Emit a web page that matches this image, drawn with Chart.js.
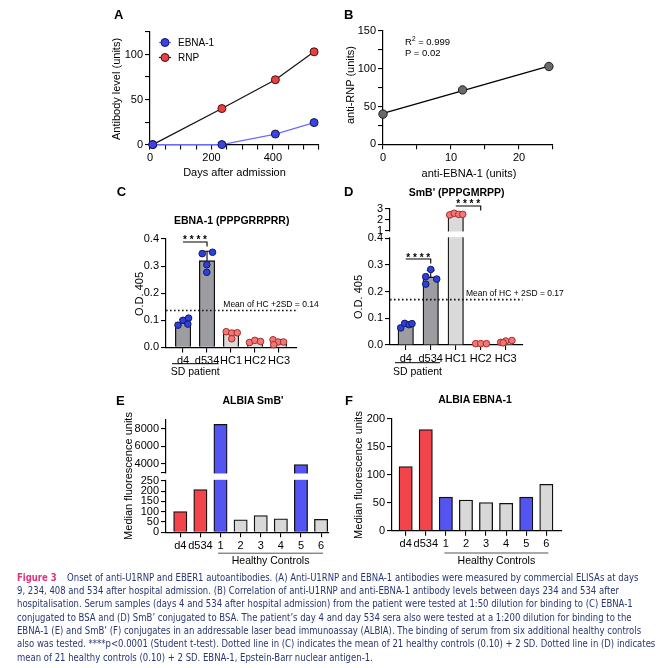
<!DOCTYPE html>
<html>
<head>
<meta charset="utf-8">
<script src="https://cdn.jsdelivr.net/npm/chart.js"></script>
<style>
  html, body { margin: 0; padding: 0; background: #fff; }
  body { width: 666px; height: 668px; position: relative; overflow: hidden; font-family: 'Liberation Sans', Arial, sans-serif; color: #000; }
  canvas { position: absolute; }
  .t { position: absolute; white-space: nowrap; line-height: 1; }
  .cap { position: absolute; left: 16.7px; white-space: nowrap; line-height: 1; font-size: 10px; color: #263672;
         font-family: 'Liberation Sans Narrow', 'DejaVu Sans Condensed', 'Liberation Sans', sans-serif; transform-origin: 0 50%; }
  .cap b { color: #e3337b; margin-right: 11px; }
</style>
</head>
<body>
<canvas id="cA"></canvas>
<canvas id="cB"></canvas>
<canvas id="cC"></canvas>
<canvas id="cD"></canvas>
<canvas id="cE"></canvas>
<canvas id="cF"></canvas>
<script>
// A / B : ELISA units over time
const days = [9, 234, 408, 534];
const rnpUnits = [0, 40, 72, 103];
const ebnaUnits = [0, 0, 11.7, 24.4];
const fitEbna = [0, 24.4];
const fitRnp = [41, 103.5];

// C : EBNA-1 peptide OD
const odGroups = ['d4', 'd534', 'HC1', 'HC2', 'HC3'];
const ebnaOd = [0.092, 0.32, 0.05, 0.022, 0.02];
const ebnaOdSd = [0.012, 0.035, 0.012, 0.004, 0.008];
const ebnaOdDots = [
  [0.082, 0.1, 0.108, 0.086],
  [0.346, 0.351, 0.305, 0.277],
  [0.058, 0.053, 0.054, 0.032],
  [0.018, 0.026, 0.022],
  [0.028, 0.02, 0.02, 0.01]
];
const ebnaOdJitter = [
  [-0.21, 0, 0.23, 0.2],
  [-0.2, 0.23, -0.01, -0.01],
  [-0.2, 0.03, 0.26, 0.03],
  [-0.23, -0.01, 0.23],
  [-0.25, -0.04, 0.19, -0.22]
];
const ebnaCutoff = 0.136;

// D : SmB' peptide OD
const smbOd = [0.075, 0.255, 2.5, 0.005, 0.012];
const smbOdSd = [0.008, 0.025, 0.08, 0.002, 0.004];
const smbOdDots = [
  [0.064, 0.081, 0.076, 0.08],
  [0.283, 0.256, 0.247, 0.228],
  [2.45, 2.6, 2.5, 2.5],
  [0.005, 0.005, 0.005],
  [0.01, 0.015, 0.017, 0.008]
];
const smbOdJitter = [
  [-0.2, -0.04, 0.13, 0.25],
  [0, -0.2, 0.24, -0.2],
  [-0.24, -0.06, 0.12, 0.28],
  [-0.2, 0, 0.23],
  [-0.2, 0, 0.25, -0.1]
];
const smbCutoff = 0.17;
const smbOdTicks = [0, 0.1, 0.2, 0.3, 0.4, 1, 2, 3];

// E / F : ALBIA
const albiaGroups = ['d4', 'd534', '1', '2', '3', '4', '5', '6'];
const albiaSmb = [100, 207, 8500, 60, 81, 65, 3900, 63];
const albiaEbna = [115, 181, 60, 55, 50.5, 49, 60, 83];
const albiaSmbTicks = [0, 50, 100, 150, 200, 250, 3000, 4000, 6000, 8000];

Chart.defaults.font.family = "'Liberation Sans', Arial, sans-serif";
Chart.defaults.font.size = 11;
Chart.defaults.color = '#000';
Chart.defaults.animation = false;
Chart.defaults.events = [];
Chart.defaults.plugins.legend.display = false;
Chart.defaults.plugins.tooltip.enabled = false;

// y axis with a break: two linear pieces stacked
const brokenY = {};
class BrokenScale extends Chart.LinearScale {
  buildTicks() {
    return brokenY[this.chart.canvas.id].ticks.map(v => ({ value: v }));
  }
  getPixelForValue(v) {
    const [a, b] = brokenY[this.chart.canvas.id].segs;
    let f;
    if (v <= a.max) f = a.from + (v - a.min) / (a.max - a.min) * (a.to - a.from);
    else if (v < b.min) f = a.to + (v - a.max) / (b.min - a.max) * (b.from - a.to);
    else f = b.from + (v - b.min) / (b.max - b.min) * (b.to - b.from);
    return this.bottom - f * (this.bottom - this.top);
  }
}
BrokenScale.id = 'broken';
BrokenScale.defaults = {};
Chart.register(BrokenScale);

brokenY.cD = { segs: [{ min: 0, max: 0.4, from: 0, to: 0.785 }, { min: 1, max: 3, from: 0.842, to: 1 }], ticks: smbOdTicks };
brokenY.cE = { segs: [{ min: 0, max: 250, from: 0, to: 0.458 }, { min: 3000, max: 9000, from: 0.532, to: 1 }], ticks: albiaSmbTicks };

// extra drawing: legend, error bars, brackets, group lines, axis gap
const decor = {};
Chart.register({
  id: 'decor',
  afterDatasetDraw(chart, args) {
    const d = decor[chart.canvas.id];
    if (!d || args.meta.type !== 'bar') return;
    const ctx = chart.ctx, x = chart.scales.x, y = chart.scales.y, area = chart.chartArea;
    ctx.save();
    if (d.err) {
      ctx.strokeStyle = '#000';
      ctx.lineWidth = 1.1;
      d.err.mean.forEach((m, i) => {
        const px = x.getPixelForValue(i), y0 = y.getPixelForValue(m), y1 = y.getPixelForValue(m + d.err.sd[i]);
        ctx.beginPath();
        ctx.moveTo(px, y0); ctx.lineTo(px, y1);
        ctx.moveTo(px - 4, y1); ctx.lineTo(px + 4, y1);
        ctx.stroke();
      });
    }
    if (d.gap) {
      const segs = brokenY[chart.canvas.id].segs;
      const g0 = y.getPixelForValue(segs[1].min) + 1, g1 = y.getPixelForValue(segs[0].max) - 1;
      ctx.fillStyle = '#fff';
      ctx.fillRect(area.left - 1.5, g0, area.right - area.left + 3, g1 - g0);
    }
    ctx.restore();
  },
  afterDraw(chart) {
    const d = decor[chart.canvas.id];
    if (!d) return;
    const ctx = chart.ctx, x = chart.scales.x, y = chart.scales.y, area = chart.chartArea;
    ctx.save();
    if (d.legend) {
      chart.data.datasets.forEach((ds, i) => {
        const cx = area.left + d.legend.x, cy = area.top + d.legend.y + i * d.legend.dy;
        ctx.strokeStyle = ds.borderColor; ctx.lineWidth = ds.borderWidth;
        ctx.beginPath(); ctx.moveTo(cx - 6, cy); ctx.lineTo(cx + 6, cy); ctx.stroke();
        ctx.beginPath(); ctx.arc(cx, cy, ds.pointRadius, 0, Math.PI * 2);
        ctx.fillStyle = ds.pointBackgroundColor; ctx.fill();
        ctx.strokeStyle = ds.pointBorderColor; ctx.lineWidth = 1; ctx.stroke();
        ctx.fillStyle = '#000'; ctx.font = "10px 'Liberation Sans'";
        ctx.textAlign = 'left'; ctx.textBaseline = 'middle';
        ctx.fillText(ds.label, cx + 13, cy + 0.5);
      });
    }
    (d.brackets || []).forEach(b => {
      const x0 = x.getPixelForValue(b.from), x1 = x.getPixelForValue(b.to), yy = y.getPixelForValue(b.y);
      ctx.strokeStyle = '#000'; ctx.lineWidth = 1.1;
      ctx.beginPath(); ctx.moveTo(x0, yy); ctx.lineTo(x1, yy); ctx.lineTo(x1, yy + 4.5); ctx.stroke();
      ctx.fillStyle = '#000'; ctx.font = "bold 10px 'Liberation Sans'";
      ctx.textAlign = 'center'; ctx.textBaseline = 'alphabetic';
      ctx.fillText('* * * *', (x0 + x1) / 2, yy + 1.5);
    });
    (d.groups || []).forEach(g => {
      const x0 = x.getPixelForValue(g.from), x1 = x.getPixelForValue(g.to);
      ctx.strokeStyle = g.color; ctx.lineWidth = 1;
      ctx.beginPath(); ctx.moveTo(x0, area.bottom + g.lineDy); ctx.lineTo(x1, area.bottom + g.lineDy); ctx.stroke();
      ctx.fillStyle = '#000'; ctx.font = "10.5px 'Liberation Sans'";
      ctx.textAlign = 'center'; ctx.textBaseline = 'middle';
      ctx.fillText(g.label, (x0 + x1) / 2, area.bottom + g.textDy);
    });
    ctx.restore();
  }
});

function axis(type, min, max, size, ticks, extra) {
  return Object.assign({
    type: type, min: min, max: max, bounds: 'data', offset: false,
    grid: { drawOnChartArea: false, drawTicks: true, tickLength: 5, color: '#000', lineWidth: 1.1, offset: false },
    border: { color: '#000', width: 1.2 },
    ticks: Object.assign({ padding: 2, autoSkip: false, maxRotation: 0, minRotation: 0, color: '#000', font: { size: 11 } }, ticks),
    afterFit: function (s) { if (s.isHorizontal()) s.height = size; else s.width = size; }
  }, extra || {});
}

function catAxis(names, range) {
  return axis('linear', range[0], range[1], 20, { callback: (v, i) => names[i] }, {
    afterBuildTicks: s => { s.ticks = names.map((n, i) => ({ value: i })); }
  });
}

// put a canvas so that its plot area lands on the given page box
function place(id, area, yw, xh, config) {
  const pad = { left: 6, top: 26, right: 16, bottom: 34 };
  const cv = document.getElementById(id);
  const left = area.l - yw - pad.left, top = area.t - pad.top;
  const w = Math.ceil(area.r + pad.right - left), h = Math.ceil(area.b + xh + pad.bottom - top);
  cv.style.left = left + 'px'; cv.style.top = top + 'px';
  cv.width = w; cv.height = h;
  config.options.responsive = false;
  config.options.layout = { padding: { left: pad.left, top: pad.top, right: w - (area.r - left), bottom: h - (area.b + xh - top) } };
  return new Chart(cv, config);
}

const xy = (xs, ys) => xs.map((v, i) => ({ x: v, y: ys[i] }));

// A
decor.cA = { legend: { x: 15, y: 10.5, dy: 15 } };
place('cA', { l: 150, t: 31.7, r: 319, b: 144.3 }, 36, 20, {
  type: 'scatter',
  data: { datasets: [
    { label: 'EBNA-1', data: xy(days, ebnaUnits), showLine: true, clip: false, borderColor: '#6b6bff', borderWidth: 1.2,
      pointRadius: 4, pointBackgroundColor: '#3a43e6', pointBorderColor: '#151540', pointBorderWidth: 1 },
    { label: 'RNP', data: xy(days, rnpUnits), showLine: true, clip: false, borderColor: '#111', borderWidth: 1.2,
      pointRadius: 4, pointBackgroundColor: '#ee3f3f', pointBorderColor: '#401010', pointBorderWidth: 1 }
  ]},
  options: { scales: {
    x: axis('linear', 0, 550, 20, { stepSize: 50, callback: v => v % 200 === 0 ? v : '' }),
    y: axis('linear', 0, 125, 36, { stepSize: 25, callback: v => v % 50 === 0 ? v : '' })
  }}
});

// B
place('cB', { l: 383.3, t: 30.7, r: 553.3, b: 144 }, 36, 20, {
  type: 'scatter',
  data: { datasets: [
    { data: xy(ebnaUnits.slice(1), rnpUnits.slice(1)), clip: false, pointRadius: 4.2,
      pointBackgroundColor: '#6a6a6a', pointBorderColor: '#1a1a1a', pointBorderWidth: 1 },
    { data: xy(fitEbna, fitRnp), showLine: true, clip: false, pointRadius: 0, borderColor: '#000', borderWidth: 1.3 }
  ]},
  options: { scales: {
    x: axis('linear', 0, 25, 20, { stepSize: 5, callback: v => v % 10 === 0 ? v : '' }),
    y: axis('linear', 0, 150, 36, { stepSize: 25, callback: v => v % 50 === 0 ? v : '' })
  }}
});

function odChart(id, area, xr, yAxis, mean, dots, jitter, cutoff) {
  const pts = (a, b) => {
    const out = [];
    for (let i = a; i < b; i++) dots[i].forEach((v, k) => out.push({ x: i + jitter[i][k], y: v }));
    return out;
  };
  return place(id, area, 36, 20, {
    type: 'bar',
    data: { datasets: [
      { type: 'line', data: [{ x: xr[0], y: cutoff }, { x: xr[1], y: cutoff }], borderColor: '#111', borderWidth: 1.6,
        borderDash: [1.6, 2.4], pointRadius: 0, order: 0 },
      { type: 'scatter', data: pts(0, 2), clip: false, pointRadius: 3.3, pointBackgroundColor: '#2f3fdc',
        pointBorderColor: '#141a60', pointBorderWidth: 1, order: 1 },
      { type: 'scatter', data: pts(2, 5), clip: false, pointRadius: 3.3, pointBackgroundColor: '#f27878',
        pointBorderColor: '#a32c2c', pointBorderWidth: 1, order: 1 },
      { type: 'bar', data: mean.map((v, i) => ({ x: i, y: v })), barThickness: 15.5, borderWidth: 1.3, borderColor: '#111',
        backgroundColor: ['#9d9da1', '#9d9da1', '#dadada', '#dadada', '#dadada'], order: 2 }
    ]},
    options: { scales: { x: catAxis(odGroups, xr), y: yAxis } }
  });
}

// C
decor.cC = {
  err: { mean: ebnaOd, sd: ebnaOdSd },
  brackets: [{ from: 0, to: 1, y: 0.389 }],
  groups: [{ from: -0.46, to: 1.48, label: 'SD patient', lineDy: 16.3, textDy: 25, color: '#000' }]
};
odChart('cC', { l: 165.7, t: 239.3, r: 296.7, b: 347.7 }, [-0.71, 4.75],
  axis('linear', 0, 0.4, 36, { stepSize: 0.1, callback: v => v.toFixed(1) }),
  ebnaOd, ebnaOdDots, ebnaOdJitter, ebnaCutoff);

// D
decor.cD = {
  err: { mean: smbOd, sd: smbOdSd },
  brackets: [{ from: 0, to: 1, y: 0.322 }, { from: 2, to: 3, y: 3.28 }],
  groups: [{ from: -0.43, to: 1.37, label: 'SD patient', lineDy: 17.7, textDy: 26.7, color: '#000' }],
  gap: true
};
odChart('cD', { l: 390, t: 209, r: 522.7, b: 345 }, [-0.63, 4.68],
  axis('broken', 0, 3, 36, { callback: v => v < 1 ? v.toFixed(1) : String(v) }),
  smbOd, smbOdDots, smbOdJitter, smbCutoff);

const albiaColors = ['#f2444a', '#f2444a', '#5454f2', '#d8d8d8', '#d8d8d8', '#d8d8d8', '#5454f2', '#d8d8d8'];
function albiaChart(id, area, xr, yAxis, values) {
  return place(id, area, 36, 20, {
    type: 'bar',
    data: { datasets: [{ data: values.map((v, i) => ({ x: i, y: v })), barThickness: 13.3, borderWidth: 1.3,
      borderColor: '#111', backgroundColor: albiaColors }] },
    options: { scales: { x: catAxis(albiaGroups, xr), y: yAxis } }
  });
}

// E
decor.cE = { groups: [{ from: 1.88, to: 7.1, label: 'Healthy Controls', lineDy: 21, textDy: 29, color: '#555' }], gap: true };
albiaChart('cE', { l: 166, t: 419.5, r: 328.3, b: 531.7 }, [-0.71, 7.36],
  axis('broken', 0, 9000, 36, { callback: v => v === 3000 ? '' : String(v) }), albiaSmb);

// F
decor.cF = { groups: [{ from: 1.93, to: 7.1, label: 'Healthy Controls', lineDy: 22.3, textDy: 30.7, color: '#555' }] };
albiaChart('cF', { l: 391.7, t: 419.3, r: 561.7, b: 531 }, [-0.68, 7.78],
  axis('linear', 0, 200, 36, { stepSize: 50 }), albiaEbna);

// page text
function text(str, x, y, font, mode) {
  const el = document.createElement('div');
  el.className = 't';
  el.innerHTML = str;
  el.style.font = font;
  el.style.lineHeight = '1';
  el.style.left = x + 'px';
  el.style.top = y + 'px';
  el.style.transform = mode === 'left' ? 'translate(0,-50%)'
    : mode === 'rot' ? 'translate(-50%,-50%) rotate(-90deg)' : 'translate(-50%,-50%)';
  document.body.appendChild(el);
}
const LB = "bold 13px 'Liberation Sans'", TB = "bold 10.5px 'Liberation Sans'", AX = "11px 'Liberation Sans'";
text('A', 114, 14.3, LB, 'left');
text('B', 344, 14.3, LB, 'left');
text('C', 116.7, 190.8, LB, 'left');
text('D', 344, 191.3, LB, 'left');
text('E', 116, 399.6, LB, 'left');
text('F', 345, 399.6, LB, 'left');
text('EBNA-1 (PPPGRRPRR)', 231.7, 220, TB);
text('SmB\' (PPPGMRPP)', 456.7, 191.7, TB);
text('ALBIA SmB\'', 253, 400, TB);
text('ALBIA EBNA-1', 475, 399, TB);
text('Antibody level (units)', 116, 89, AX, 'rot');
text('Days after admission', 234.5, 172, AX);
text('anti-RNP (units)', 350, 85, AX, 'rot');
text('anti-EBNA-1 (units)', 469, 172.7, AX);
text('O.D. 405', 139.3, 294, AX, 'rot');
text('O.D. 405', 358.3, 297, AX, 'rot');
text('Median fluorescence units', 128.3, 475.5, AX, 'rot');
text('Median fluorescence units', 358.3, 475, AX, 'rot');
text('R<span style="font-size:6.5px;position:relative;top:-4px">2</span> = 0.999', 405, 41.7, "9.5px 'Liberation Sans'", 'left');
text('P = 0.02', 405, 52.5, "9.5px 'Liberation Sans'", 'left');
text('Mean of HC +2SD = 0.14', 223.3, 304.3, "8.5px 'Liberation Sans'", 'left');
text('Mean of HC + 2SD = 0.17', 466, 293.3, "8.5px 'Liberation Sans'", 'left');

const captionLines = [
  '<b>Figure 3</b>Onset of anti-U1RNP and EBER1 autoantibodies. (A) Anti-U1RNP and EBNA-1 antibodies were measured by commercial ELISAs at days',
  '9, 234, 408 and 534 after hospital admission. (B) Correlation of anti-U1RNP and anti-EBNA-1 antibody levels between days 234 and 534 after',
  'hospitalisation. Serum samples (days 4 and 534 after hospital admission) from the patient were tested at 1:50 dilution for binding to (C) EBNA-1',
  'conjugated to BSA and (D) SmB’ conjugated to BSA. The patient’s day 4 and day 534 sera also were tested at a 1:200 dilution for binding to the',
  'EBNA-1 (E) and SmB’ (F) conjugates in an addressable laser bead immunoassay (ALBIA). The binding of serum from six additional healthy controls',
  'also was tested. ****p&lt;0.0001 (Student t-test). Dotted line in (C) indicates the mean of 21 healthy controls (0.10) + 2 SD. Dotted line in (D) indicates',
  'mean of 21 healthy controls (0.10) + 2 SD. EBNA-1, Epstein-Barr nuclear antigen-1.'
];
const capEls = captionLines.map((s, i) => {
  const el = document.createElement('div');
  el.className = 'cap';
  el.innerHTML = s;
  el.style.top = (577.7 + i * 13.33) + 'px';
  document.body.appendChild(el);
  return el;
});
const widest = Math.max(...capEls.map(e => e.getBoundingClientRect().width));
const k = (655 - 16.7) / widest;
capEls.forEach(e => { e.style.transform = 'translateY(-50%) scaleX(' + k + ')'; });
</script>
</body>
</html>
